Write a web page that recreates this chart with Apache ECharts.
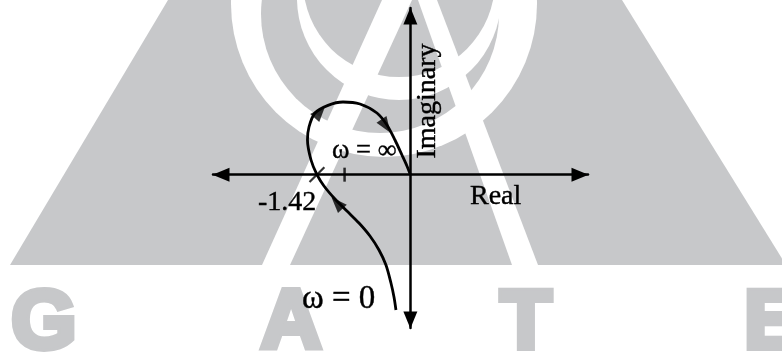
<!DOCTYPE html>
<html><head><meta charset="utf-8">
<script src="https://cdn.jsdelivr.net/npm/echarts@6/dist/echarts.min.js"></script>
<style>html,body{margin:0;padding:0;background:#fff}#c{width:782px;height:360px}</style>
</head><body><div id="c"></div>
<script>
// ---- data (Nyquist locus) ----
const curveRe = [-0.219,-0.249,-0.295,-0.371,-0.477,-0.614,-0.781,-0.964,-1.146,-1.313,-1.42,-1.51,-1.564,-1.541,-1.45,-1.252,-1.024,-0.766,-0.508,-0.356,-0.234,-0.128,-0.052,0];
const curveIm = [-2.03,-1.835,-1.625,-1.355,-1.13,-0.92,-0.725,-0.545,-0.365,-0.17,0,0.22,0.52,0.715,0.925,1.04,1.09,1.06,0.925,0.745,0.52,0.295,0.13,0];
const arrowRe = [-1.116,-1.374,-0.371];
const arrowIm = [-0.425,0.94,0.73];
const arrowAngle = [43,-41,-146];
const crossing = -1.42;
const tickValues = [-1];
const axisTitles = ['Real','Imaginary'];
const freqLabels = ['ω = ∞','ω = 0'];
const watermarkLetters = ['G','A','T','E'];

const GRAY = '#c7c8ca';
const SERIF = '"Liberation Serif","Times New Roman",serif';
const chart = echarts.init(document.getElementById('c'));

function txt(text, x, y, size, align, extra) {
  return Object.assign({
    type:'text', z:10,
    style:{text, x, y, font: size + 'px ' + SERIF, fill:'#000', stroke:'#000', lineWidth:0.4,
      align, textAlign:align, verticalAlign:'middle', textVerticalAlign:'middle'}
  }, extra || {});
}
function letter(text, x) {
  return {type:'text', z:-10,
    style:{text, x, y:325, font:'bold 84px "Liberation Sans",Arial,sans-serif', fill:GRAY,
      stroke:GRAY, lineWidth:6, lineJoin:'miter',
      align:'center', textAlign:'center', verticalAlign:'middle', textVerticalAlign:'middle'}};
}

const axisCommon = {
  type:'value', z:3,
  splitLine:{show:false}, axisTick:{show:false}, axisLabel:{show:false},
  axisLine:{show:true, onZero:true, symbol:['triangle','triangle'], symbolSize:[14,17], symbolOffset:[8,-8],
    lineStyle:{color:'#000', width:2.5}}
};

chart.setOption({
  animation:false,
  grid:{left:213, right:194, top:8, bottom:32, containLabel:false},
  xAxis:Object.assign({}, axisCommon, {min:-3, max:2.7}),
  yAxis:Object.assign({}, axisCommon, {min:-2.3, max:2.5}),
  graphic:[
    {type:'polygon', z:-20, shape:{points:[[168,0],[622,0],[786,265],[10,265]]}, style:{fill:GRAY}},
    {type:'circle', z:-19, shape:{cx:384, cy:4, r:153}, style:{fill:'#fff'}},
    {type:'circle', z:-18, shape:{cx:380, cy:14, r:119}, style:{fill:GRAY}},
    {type:'circle', z:-17, shape:{cx:399, cy:-2, r:102}, style:{fill:'#fff'}},
    {type:'circle', z:-16, shape:{cx:399, cy:-19, r:96}, style:{fill:GRAY}},
    {type:'polygon', z:-15, shape:{points:[[262,265],[290,265],[412,0],[382,0]]}, style:{fill:'#fff'}},
    {type:'polygon', z:-15, shape:{points:[[512,265],[538,265],[437,0],[418,0]]}, style:{fill:'#fff'}},
    letter(watermarkLetters[0], 44),
    letter(watermarkLetters[1], 291),
    letter(watermarkLetters[2], 526),
    letter(watermarkLetters[3], 772),
    txt(String(crossing), 258, 203, 28, 'left'),
    txt(axisTitles[0], 470, 196.5, 28, 'left'),
    txt(axisTitles[1], 0, 0, 28, 'center', {x:427.5, y:101, rotation:Math.PI/2}),
    txt(freqLabels[0], 332, 151, 26.5, 'left'),
    txt(freqLabels[1], 302, 299, 33, 'left')
  ],
  series:[
    {type:'line', data:curveRe.map((r,i)=>[r, curveIm[i]]), smooth:0.3, showSymbol:false, symbol:'none',
      lineStyle:{color:'#000', width:2.8}, z:4},
    {type:'scatter', data:arrowRe.map((r,i)=>({value:[r, arrowIm[i]], symbolRotate:arrowAngle[i]})),
      symbol:'triangle', symbolSize:[12,16], itemStyle:{color:'#000'}, z:5},
    {type:'scatter', data:tickValues.map(v=>[v,0]), symbol:'rect', symbolSize:[2.5,14], itemStyle:{color:'#000'}, z:5},
    {type:'scatter', data:[[crossing,0]], symbol:'rect', symbolSize:[2.2,21], symbolRotate:-45, itemStyle:{color:'#000'}, z:5}
  ]
});
</script></body></html>
